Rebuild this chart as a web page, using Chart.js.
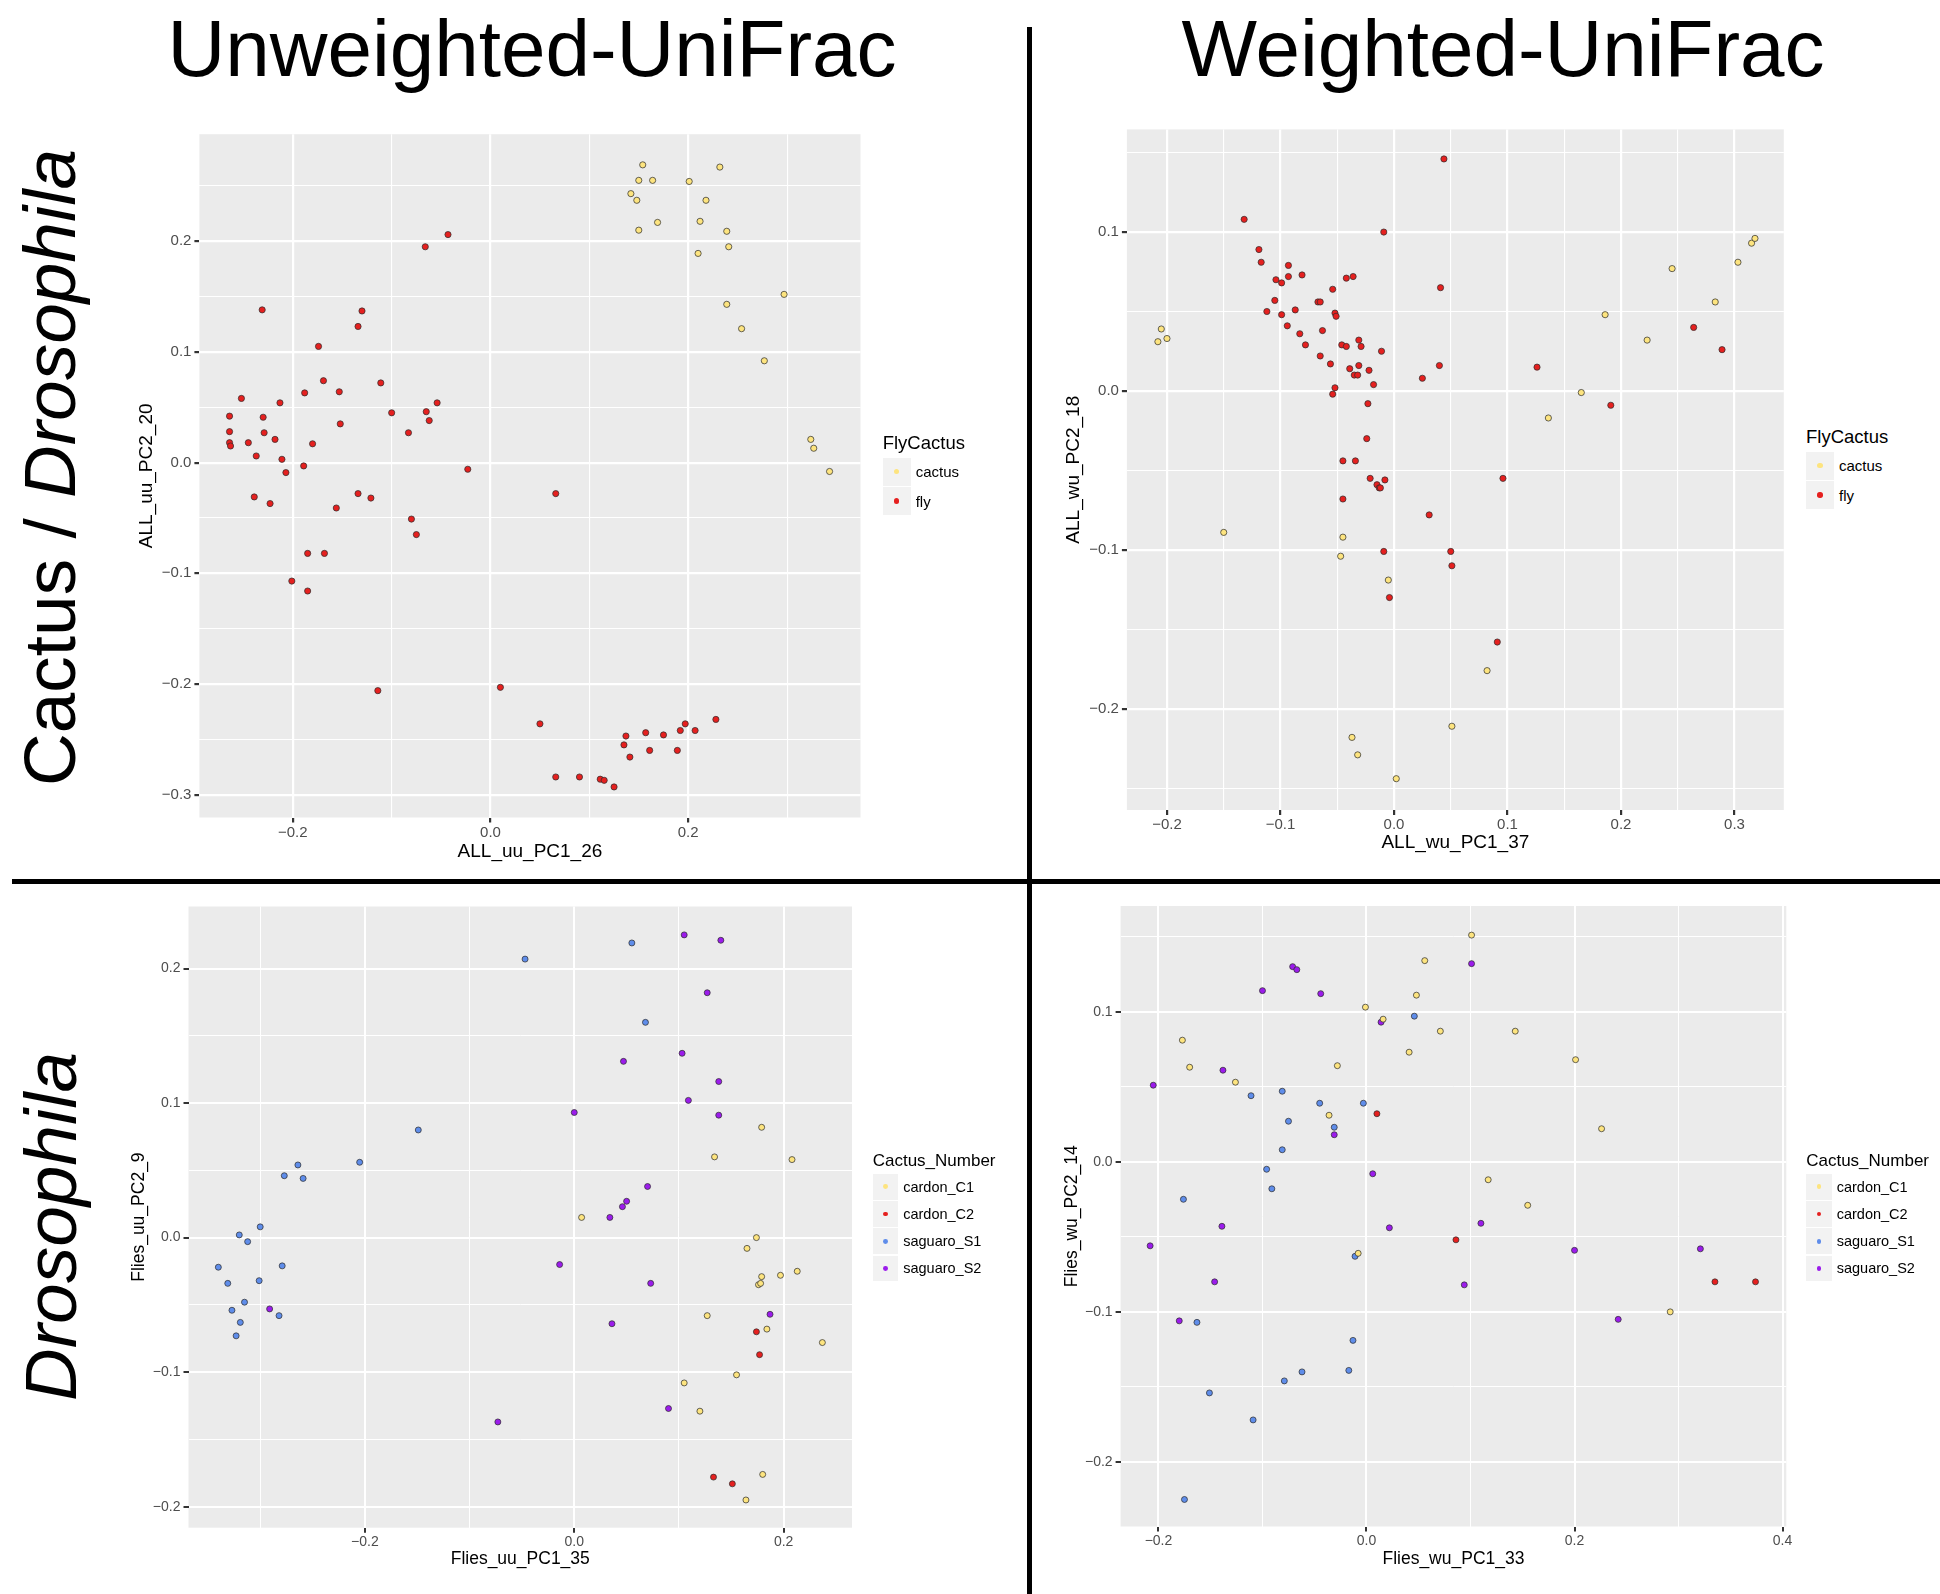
<!DOCTYPE html>
<html>
<head>
<meta charset="utf-8">
<title>UniFrac PCoA</title>
<script src="https://cdn.jsdelivr.net/npm/chart.js"></script>
<style>
  html, body { margin: 0; padding: 0; background: #ffffff; }
  body { position: relative; width: 1940px; height: 1594px; overflow: hidden; font-family: "Liberation Sans", Arial, sans-serif; }
  .head { position: absolute; width: 1000px; text-align: center; font-family: "Liberation Sans", Arial, sans-serif; font-size: 80px; line-height: 80px; white-space: nowrap; color: #000; }
  .row { position: absolute; width: 800px; text-align: center; font-family: "Liberation Sans", Arial, sans-serif; font-size: 73px; line-height: 73px; white-space: nowrap; color: #000; transform: rotate(-90deg); transform-origin: 50% 50%; }
  .rule { position: absolute; background: #000; }
  .lg-title { position: absolute; white-space: nowrap; color: #000; }
  .lg-item { position: absolute; display: flex; align-items: center; white-space: nowrap; color: #000; }
  .lg-key { position: relative; flex: none; background: #F2F2F2; }
  .lg-dot { position: absolute; border-radius: 50%; }
</style>
</head>
<body>
<div class="head" style="left:32px; top:9.3px;">Unweighted-UniFrac</div>
<div class="head" style="left:1003px; top:9.3px;">Weighted-UniFrac</div>
<div class="row" style="left:-351px; top:430.5px;">Cactus / <i>Drosophila</i></div>
<div class="row" style="left:-350px; top:1189.5px;"><i>Drosophila</i></div>
<div class="rule" style="left:1027.2px; top:27px; width:5px; height:1567px;"></div>
<div class="rule" style="left:12px; top:879px; width:1928px; height:5px;"></div>

<script>
// ---------------- groups and colours ----------------
const flyCactusGroups = ['cactus', 'fly'];
const cactusNumberGroups = ['cardon_C1', 'cardon_C2', 'saguaro_S1', 'saguaro_S2'];
const groupColors = {
  cactus: '#FDE47F', fly: '#E5201F',
  cardon_C1: '#FDE47F', cardon_C2: '#E5201F', saguaro_S1: '#5F8DEA', saguaro_S2: '#9B1CEB'
};

// ---------------- ALL samples, unweighted UniFrac (PC1, PC2) ----------------
const allUuCactus = [[0.154,0.269],[0.150,0.255],[0.164,0.255],[0.142,0.243],[0.148,0.237],[0.169,0.217],[0.150,0.210],[0.201,0.254],[0.232,0.267],[0.218,0.237],[0.212,0.218],[0.239,0.209],[0.241,0.195],[0.210,0.189],[0.297,0.152],[0.239,0.143],[0.254,0.121],[0.277,0.092],[0.324,0.021],[0.327,0.013],[0.343,-0.008]];
const allUuFly = [[-0.066,0.195],[-0.043,0.206],[-0.231,0.138],[-0.130,0.137],[-0.134,0.123],[-0.174,0.105],[-0.252,0.058],[-0.264,0.042],[-0.230,0.041],[-0.264,0.028],[-0.264,0.018],[-0.263,0.015],[-0.245,0.018],[-0.229,0.027],[-0.218,0.021],[-0.237,0.006],[-0.211,0.003],[-0.207,-0.009],[-0.239,-0.031],[-0.223,-0.037],[-0.213,0.054],[-0.188,0.063],[-0.169,0.074],[-0.153,0.064],[-0.152,0.035],[-0.180,0.017],[-0.189,-0.003],[-0.111,0.072],[-0.100,0.045],[-0.065,0.046],[-0.054,0.054],[-0.062,0.038],[-0.083,0.027],[-0.023,-0.006],[-0.134,-0.028],[-0.121,-0.032],[-0.156,-0.041],[-0.080,-0.051],[-0.075,-0.065],[-0.185,-0.082],[-0.168,-0.082],[-0.201,-0.107],[-0.185,-0.116],[-0.114,-0.206],[0.010,-0.203],[0.066,-0.028],[0.050,-0.236],[0.066,-0.284],[0.090,-0.284],[0.111,-0.286],[0.115,-0.287],[0.125,-0.293],[0.137,-0.247],[0.135,-0.255],[0.141,-0.266],[0.157,-0.244],[0.161,-0.260],[0.175,-0.246],[0.189,-0.260],[0.192,-0.242],[0.197,-0.236],[0.207,-0.242],[0.228,-0.232]];

// ---------------- ALL samples, weighted UniFrac ----------------
const allWuCactus = [[-0.205,0.039],[-0.208,0.031],[-0.200,0.033],[-0.150,-0.089],[-0.045,-0.092],[-0.047,-0.104],[-0.005,-0.119],[-0.037,-0.218],[-0.032,-0.229],[0.002,-0.244],[0.051,-0.211],[0.082,-0.176],[0.136,-0.017],[0.165,-0.001],[0.186,0.048],[0.223,0.032],[0.245,0.077],[0.283,0.056],[0.303,0.081],[0.315,0.093],[0.318,0.096]];
const allWuFly = [[0.044,0.146],[-0.132,0.108],[-0.009,0.100],[-0.119,0.089],[-0.117,0.081],[-0.093,0.079],[-0.104,0.070],[-0.099,0.068],[-0.093,0.072],[-0.081,0.073],[-0.042,0.071],[-0.036,0.072],[-0.054,0.064],[-0.067,0.056],[-0.065,0.056],[0.041,0.065],[-0.105,0.057],[-0.112,0.050],[-0.099,0.048],[-0.087,0.051],[-0.094,0.041],[-0.083,0.036],[-0.078,0.029],[-0.063,0.038],[-0.052,0.049],[-0.051,0.047],[-0.046,0.029],[-0.042,0.028],[-0.031,0.032],[-0.029,0.028],[-0.065,0.022],[-0.056,0.017],[-0.039,0.014],[-0.031,0.016],[-0.035,0.010],[-0.032,0.010],[-0.022,0.013],[-0.018,0.004],[-0.054,-0.002],[-0.052,0.002],[-0.011,0.025],[0.025,0.008],[0.040,0.016],[0.126,0.015],[0.264,0.040],[0.289,0.026],[0.191,-0.009],[-0.023,-0.008],[-0.024,-0.030],[-0.045,-0.044],[-0.034,-0.044],[-0.021,-0.055],[-0.015,-0.059],[-0.013,-0.061],[-0.012,-0.061],[-0.008,-0.056],[-0.045,-0.068],[0.096,-0.055],[0.031,-0.078],[-0.009,-0.101],[0.050,-0.101],[0.051,-0.110],[-0.004,-0.130],[0.091,-0.158]];

// ---------------- Flies only, unweighted UniFrac ----------------
const fliesUuC1 = [[0.179,0.082],[0.134,0.060],[0.208,0.058],[0.007,0.015],[0.174,0.000],[0.165,-0.008],[0.179,-0.029],[0.197,-0.028],[0.213,-0.025],[0.176,-0.035],[0.178,-0.034],[0.127,-0.058],[0.184,-0.068],[0.237,-0.078],[0.155,-0.102],[0.105,-0.108],[0.120,-0.129],[0.180,-0.176],[0.164,-0.195]];
const fliesUuC2 = [[0.174,-0.070],[0.177,-0.087],[0.133,-0.178],[0.151,-0.183]];
const fliesUuS1 = [[-0.047,0.207],[0.055,0.219],[0.068,0.160],[-0.149,0.080],[-0.205,0.056],[-0.264,0.054],[-0.277,0.046],[-0.259,0.044],[-0.300,0.008],[-0.320,0.002],[-0.312,-0.003],[-0.340,-0.022],[-0.279,-0.021],[-0.301,-0.032],[-0.331,-0.034],[-0.315,-0.048],[-0.327,-0.054],[-0.282,-0.058],[-0.319,-0.063],[-0.323,-0.073]];
const fliesUuS2 = [[0.105,0.225],[0.140,0.221],[0.127,0.182],[0.103,0.137],[0.047,0.131],[0.138,0.116],[0.109,0.102],[0.000,0.093],[0.138,0.091],[0.070,0.038],[0.050,0.027],[0.046,0.023],[0.034,0.015],[-0.014,-0.020],[0.073,-0.034],[0.187,-0.057],[0.036,-0.064],[0.090,-0.127],[-0.073,-0.137],[-0.291,-0.053]];

// ---------------- Flies only, weighted UniFrac ----------------
const fliesWuC1 = [[0.101,0.151],[0.056,0.134],[0.048,0.111],[-0.001,0.103],[0.016,0.095],[0.071,0.087],[0.143,0.087],[0.041,0.073],[-0.177,0.081],[-0.170,0.063],[-0.126,0.053],[-0.028,0.064],[-0.036,0.031],[0.201,0.068],[0.226,0.022],[0.117,-0.012],[0.155,-0.029],[-0.008,-0.061],[0.292,-0.100]];
const fliesWuC2 = [[0.010,0.032],[0.086,-0.052],[0.335,-0.080],[0.374,-0.080]];
const fliesWuS1 = [[0.046,0.097],[-0.003,0.039],[-0.045,0.039],[-0.081,0.047],[-0.111,0.044],[-0.075,0.027],[-0.031,0.023],[-0.081,0.008],[-0.096,-0.005],[-0.091,-0.018],[-0.176,-0.025],[-0.011,-0.063],[-0.163,-0.107],[-0.013,-0.119],[-0.017,-0.139],[-0.062,-0.140],[-0.079,-0.146],[-0.151,-0.154],[-0.109,-0.172],[-0.175,-0.225]];
const fliesWuS2 = [[-0.071,0.130],[-0.067,0.128],[-0.100,0.114],[-0.044,0.112],[0.101,0.132],[0.014,0.093],[-0.205,0.051],[-0.138,0.061],[-0.031,0.018],[0.006,-0.008],[0.022,-0.044],[-0.139,-0.043],[0.110,-0.041],[-0.208,-0.056],[-0.146,-0.080],[0.094,-0.082],[0.200,-0.059],[0.321,-0.058],[-0.180,-0.106],[0.242,-0.105]];

// ---------------- axis breaks (major labelled, minor grid only) ----------------
const allUuXTicks = [-0.2, 0, 0.2];
const allUuXMinor = [-0.1, 0.1, 0.3];
const allUuYTicks = [-0.3, -0.2, -0.1, 0, 0.1, 0.2];
const allUuYMinor = [-0.25, -0.15, -0.05, 0.05, 0.15, 0.25];

const allWuXTicks = [-0.2, -0.1, 0, 0.1, 0.2, 0.3];
const allWuXMinor = [-0.15, -0.05, 0.05, 0.15, 0.25];
const allWuYTicks = [-0.2, -0.1, 0, 0.1];
const allWuYMinor = [-0.25, -0.15, -0.05, 0.05, 0.15];

const fliesUuXTicks = [-0.2, 0, 0.2];
const fliesUuXMinor = [-0.3, -0.1, 0.1];
const fliesUuYTicks = [-0.2, -0.1, 0, 0.1, 0.2];
const fliesUuYMinor = [-0.15, -0.05, 0.05, 0.15];

const fliesWuXTicks = [-0.2, 0, 0.2, 0.4];
const fliesWuXMinor = [-0.1, 0.1, 0.3];
const fliesWuYTicks = [-0.2, -0.1, 0, 0.1];
const fliesWuYMinor = [-0.15, -0.05, 0.05, 0.15];

// ---------------- panel layout ----------------
const FONT = "'Liberation Sans', Arial, sans-serif";

const panels = [
  { groups: flyCactusGroups, series: [allUuCactus, allUuFly], legendTitle: 'FlyCactus',
    xTitle: 'ALL_uu_PC1_26', yTitle: 'ALL_uu_PC2_20',
    xRange: [-0.2945, 0.3743], yRange: [-0.3206, 0.2967],
    xTicks: allUuXTicks, xMinor: allUuXMinor, yTicks: allUuYTicks, yMinor: allUuYMinor,
    area: { l: 199.4, r: 860.5, t: 134.2, b: 817.5 }, yTitleX: 146.5, xTitleY: 851.5,
    tickSize: 15, titleSize: 19, major: 2.2, minor: 1.1, ptR: 3.1,
    legend: { left: 882.7, titleMid: 443, keysTop: 457.7, key: 28, pitch: 29.5, titleSize: 18.5, labelSize: 15, dotR: 2.7 } },
  { groups: flyCactusGroups, series: [allWuCactus, allWuFly], legendTitle: 'FlyCactus',
    xTitle: 'ALL_wu_PC1_37', yTitle: 'ALL_wu_PC2_18',
    xRange: [-0.2353, 0.3434], yRange: [-0.2637, 0.1646],
    xTicks: allWuXTicks, xMinor: allWuXMinor, yTicks: allWuYTicks, yMinor: allWuYMinor,
    area: { l: 1126.9, r: 1783.8, t: 129.4, b: 810 }, yTitleX: 1073.6, xTitleY: 843,
    tickSize: 15, titleSize: 19, major: 2.2, minor: 1.1, ptR: 3.1,
    legend: { left: 1806, titleMid: 436.8, keysTop: 451.5, key: 28, pitch: 29.5, titleSize: 18.5, labelSize: 15, dotR: 2.7 } },
  { groups: cactusNumberGroups, series: [fliesUuC1, fliesUuC2, fliesUuS1, fliesUuS2], legendTitle: 'Cactus_Number',
    xTitle: 'Flies_uu_PC1_35', yTitle: 'Flies_uu_PC2_9',
    xRange: [-0.3685, 0.2653], yRange: [-0.2156, 0.2461],
    xTicks: fliesUuXTicks, xMinor: fliesUuXMinor, yTicks: fliesUuYTicks, yMinor: fliesUuYMinor,
    area: { l: 188.5, r: 852, t: 906.5, b: 1527.7 }, yTitleX: 139.3, xTitleY: 1559,
    tickSize: 14, titleSize: 17.5, major: 2, minor: 1, ptR: 3,
    legend: { left: 872.7, titleMid: 1160.5, keysTop: 1174, key: 25.5, pitch: 27.2, titleSize: 17, labelSize: 14.5, dotR: 2.4 } },
  { groups: cactusNumberGroups, series: [fliesWuC1, fliesWuC2, fliesWuS1, fliesWuS2], legendTitle: 'Cactus_Number',
    xTitle: 'Flies_wu_PC1_33', yTitle: 'Flies_wu_PC2_14',
    xRange: [-0.2364, 0.4036], yRange: [-0.243, 0.1704],
    xTicks: fliesWuXTicks, xMinor: fliesWuXMinor, yTicks: fliesWuYTicks, yMinor: fliesWuYMinor,
    area: { l: 1120.6, r: 1786.3, t: 906, b: 1526.5 }, yTitleX: 1072.6, xTitleY: 1559,
    tickSize: 14, titleSize: 17.5, major: 2, minor: 1, ptR: 3,
    legend: { left: 1806.2, titleMid: 1160.5, keysTop: 1174, key: 25.5, pitch: 27.2, titleSize: 17, labelSize: 14.5, dotR: 2.4 } }
];

// grey panel background, as in ggplot's default theme
const panelBackground = {
  id: 'panelBackground',
  beforeDraw(chart) {
    const { ctx, chartArea: a } = chart;
    ctx.save();
    ctx.fillStyle = '#EBEBEB';
    ctx.fillRect(a.left, a.top, a.right - a.left, a.bottom - a.top);
    ctx.restore();
  }
};

function fmtTick(v) {
  const s = Math.abs(v).toFixed(1);
  return (v < -1e-9 ? '\u2212' : '') + s;
}
function inList(list, v) {
  return list.some(m => Math.abs(m - v) < 1e-9);
}

function axisOptions(p, horizontal) {
  const majors = horizontal ? p.xTicks : p.yTicks;
  const minors = horizontal ? p.xMinor : p.yMinor;
  const range = horizontal ? p.xRange : p.yRange;
  const titleLh = p.titleSize * 1.2;
  return {
    type: 'linear',
    position: horizontal ? 'bottom' : 'left',
    min: range[0],
    max: range[1],
    afterBuildTicks(scale) {
      scale.ticks = majors.concat(minors).sort((a, b) => a - b).map(v => ({ value: v }));
    },
    afterFit(scale) {
      if (horizontal) {
        scale.height = (p.xTitleY - p.area.b) + titleLh / 2;
        scale.paddingLeft = 0; scale.paddingRight = 0;
      } else {
        scale.width = (p.area.l - p.yTitleX) + titleLh / 2;
        scale.paddingTop = 0; scale.paddingBottom = 0;
      }
    },
    border: { display: false },
    grid: {
      color: '#FFFFFF',
      lineWidth: ctx => inList(majors, ctx.tick.value) ? p.major : p.minor,
      drawTicks: true,
      tickLength: 5,
      tickWidth: p.major,
      tickColor: ctx => inList(majors, ctx.tick.value) ? '#333333' : 'rgba(0,0,0,0)'
    },
    ticks: {
      autoSkip: false,
      maxRotation: 0,
      minRotation: 0,
      padding: horizontal ? 1 : 3,
      color: '#4D4D4D',
      font: { family: FONT, size: p.tickSize },
      callback: v => inList(majors, v) ? fmtTick(v) : ''
    },
    title: {
      display: true,
      text: horizontal ? p.xTitle : p.yTitle,
      color: '#000000',
      padding: 0,
      font: { family: FONT, size: p.titleSize }
    }
  };
}

function buildPanel(p) {
  const titleLh = p.titleSize * 1.2;
  const yw = (p.area.l - p.yTitleX) + titleLh / 2;
  const xh = (p.xTitleY - p.area.b) + titleLh / 2;
  const left = Math.floor(p.area.l - yw - 4);
  const top = Math.floor(p.area.t - 12);
  const right = Math.ceil(p.area.r + 22);
  const bottom = Math.ceil(p.area.b + xh + 4);

  const canvas = document.createElement('canvas');
  canvas.width = right - left;
  canvas.height = bottom - top;
  canvas.style.cssText = `position:absolute;left:${left}px;top:${top}px;width:${right - left}px;height:${bottom - top}px;`;
  document.body.appendChild(canvas);

  new Chart(canvas, {
    type: 'scatter',
    data: {
      datasets: p.groups.map((g, i) => ({
        label: g,
        data: p.series[i].map(([x, y]) => ({ x, y })),
        backgroundColor: groupColors[g],
        borderColor: 'rgba(45,45,45,0.9)',
        borderWidth: 0.8,
        pointRadius: p.ptR,
        pointHoverRadius: p.ptR
      }))
    },
    options: {
      responsive: false,
      animation: false,
      events: [],
      layout: {
        padding: {
          left: p.area.l - yw - left,
          top: p.area.t - top,
          right: right - p.area.r,
          bottom: bottom - (p.area.b + xh)
        }
      },
      plugins: { legend: { display: false }, tooltip: { enabled: false } },
      scales: { x: axisOptions(p, true), y: axisOptions(p, false) }
    },
    plugins: [panelBackground]
  });
}

function buildLegend(p) {
  const lg = p.legend;
  const title = document.createElement('div');
  title.className = 'lg-title';
  title.textContent = p.legendTitle;
  title.style.cssText = `left:${lg.left}px;top:${lg.titleMid - 0.488 * lg.titleSize}px;font-size:${lg.titleSize}px;line-height:${lg.titleSize}px;`;
  document.body.appendChild(title);

  p.groups.forEach((g, i) => {
    const item = document.createElement('div');
    item.className = 'lg-item';
    item.style.cssText = `left:${lg.left}px;top:${lg.keysTop + i * lg.pitch}px;height:${lg.key}px;font-size:${lg.labelSize}px;`;
    const key = document.createElement('div');
    key.className = 'lg-key';
    key.style.cssText = `width:${lg.key}px;height:${lg.key}px;`;
    const dot = document.createElement('div');
    dot.className = 'lg-dot';
    dot.style.cssText = `width:${2 * lg.dotR}px;height:${2 * lg.dotR}px;left:${lg.key / 2 - lg.dotR}px;top:${lg.key / 2 - lg.dotR}px;background:${groupColors[g]};`;
    key.appendChild(dot);
    const label = document.createElement('span');
    label.textContent = g;
    label.style.marginLeft = '5px';
    item.appendChild(key);
    item.appendChild(label);
    document.body.appendChild(item);
  });
}

panels.forEach(p => { buildPanel(p); buildLegend(p); });
</script>
</body>
</html>
